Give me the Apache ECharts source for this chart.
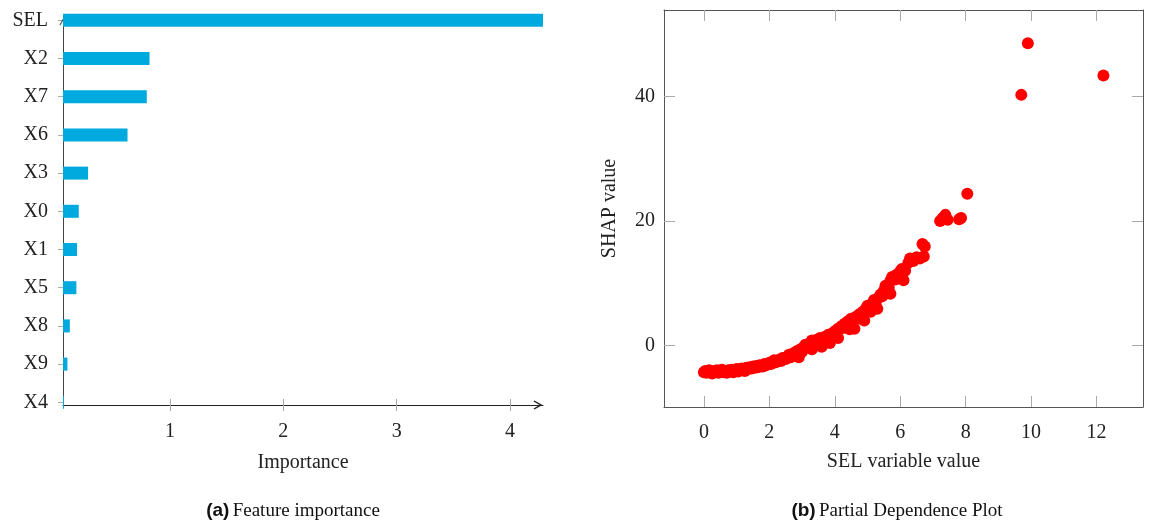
<!DOCTYPE html>
<html>
<head>
<meta charset="utf-8">
<script src="https://cdn.jsdelivr.net/npm/echarts@6/dist/echarts.min.js"></script>
<style>
html,body{margin:0;padding:0;background:#fff;}
#chart{width:1149px;height:523px;}
</style>
</head>
<body>
<div id="chart"></div>
<script>
// ---- Data ----
const categories = ['X4','X9','X8','X5','X1','X0','X3','X6','X7','X2','SEL'];
const importance = [0.066,0.096,0.117,0.175,0.181,0.196,0.278,0.626,0.796,0.82,4.29];
const importanceTicks = [1,2,3,4];

const selValues = [0.00,0.04,0.08,0.12,0.16,0.20,0.25,0.30,0.35,0.40,0.45,0.50,0.55,0.60,0.65,0.70,0.75,0.80,0.85,0.90,0.95,
 1.00,1.05,1.10,1.15,1.20,1.25,1.30,1.35,1.40,1.45,1.50,1.55,1.60,1.65,1.70,1.80,1.85,1.90,
 2.00,2.05,2.10,2.15,2.20,2.30,2.35,2.40,2.50,2.55,2.60,2.65,2.75,2.80,2.85,2.90,2.95,
 3.00,3.05,3.10,3.15,3.25,3.30,3.30,3.35,3.45,3.50,3.55,3.60,3.60,3.70,3.75,3.80,3.85,3.90,3.95,
 4.00,4.05,4.10,4.10,4.20,4.25,4.30,4.40,4.45,4.45,4.50,4.55,4.60,4.65,4.70,4.75,4.85,4.90,4.90,4.95,
 5.00,5.05,5.10,5.15,5.20,5.25,5.30,5.35,5.40,5.45,5.50,5.55,5.65,5.70,5.70,5.75,5.85,5.90,
 6.00,6.05,6.10,6.15,6.25,6.30,6.40,6.50,6.60,6.68,6.72,6.75,
 7.22,7.30,7.38,7.45,7.80,7.86,8.05,9.70,9.90,12.21];
const shapValues = [-4.3,-4.1,-4.4,-4.2,-4.0,-4.3,-4.5,-4.1,-4.3,-4.0,-4.4,-4.2,-3.9,-4.3,-4.1,-4.4,-4.0,-4.2,-3.9,-4.3,-4.1,
 -3.8,-4.2,-4.0,-3.7,-3.9,-4.1,-3.6,-3.8,-3.5,-3.7,-3.4,-3.6,-3.3,-3.5,-3.2,-3.4,-3.0,-3.2,
 -2.8,-3.0,-2.6,-2.4,-2.7,-2.3,-2.5,-2.0,-2.2,-1.8,-1.5,-1.9,-1.2,-1.5,-0.9,-1.9,-0.6,
 -1.0,-0.3,0.1,-0.2,0.4,0.8,-0.6,0.3,0.9,0.6,1.2,0.8,-0.2,1.4,1.1,1.7,0.4,1.9,1.5,
 2.3,2.0,2.7,1.2,3.1,2.8,3.5,3.9,3.6,2.6,4.3,4.0,2.7,4.6,4.3,5.0,5.4,5.1,4.0,5.9,
 6.4,6.0,5.4,6.8,7.3,6.9,5.9,7.7,8.2,7.9,8.8,9.6,9.3,10.4,8.3,11.0,10.6,11.4,
 11.9,12.3,10.5,12.0,13.3,14.0,13.6,14.2,14.0,16.3,14.3,15.9,
 20.0,20.5,21.0,20.2,20.3,20.5,24.4,40.3,48.6,43.4];
const selTicks = [0,2,4,6,8,10,12];
const shapTicks = [0,20,40];

const scatterData = selValues.map((x, i) => [x, shapValues[i]]);

const SERIF = 'Liberation Serif';
const arrowPath = 'path://M5,0 L10,9 L9,10 L5,3.2 L1,10 L0,9 Z';
const tickColor = '#aaaaaa';
const labelStyle = { fontFamily: SERIF, fontSize: 20, color: '#222' };
const nameStyle = { fontFamily: SERIF, fontSize: 20, color: '#222' };

const chart = echarts.init(document.getElementById('chart'), null, { renderer: 'canvas' });

const option = {
  backgroundColor: '#ffffff',
  animation: false,
  grid: [
    // 0: bars (band per category)
    { left: 63, top: 1.2, width: 480, height: 420.2 },
    // 1: scatter box
    { left: 664, top: 10, width: 479, height: 397 },
    // 2: visible axis lines of the importance plot
    { left: 63, top: 19, width: 480, height: 386 },
    // 3: inside tick halves of the importance x axis
    { left: 63, top: 19, width: 480, height: 386 }
  ],
  xAxis: [
    {
      gridIndex: 0, type: 'value', min: 0.057, max: 4.29, show: false
    },
    {
      gridIndex: 1, type: 'value', min: -1.22, max: 13.42, position: 'bottom',
      axisLine: { show: true, onZero: false, lineStyle: { color: '#555', width: 1 } },
      axisTick: { show: true, inside: true, length: 11, lineStyle: { color: tickColor }, customValues: selTicks },
      axisLabel: Object.assign({ customValues: selTicks, margin: 16 }, labelStyle),
      splitLine: { show: false },
      name: 'SEL variable value', nameLocation: 'middle', nameGap: 45, nameTextStyle: nameStyle
    },
    {
      gridIndex: 1, type: 'value', min: -1.22, max: 13.42, position: 'top',
      axisLine: { show: true, onZero: false, lineStyle: { color: '#555', width: 1 } },
      axisTick: { show: true, inside: true, length: 11, lineStyle: { color: tickColor }, customValues: selTicks },
      axisLabel: { show: false },
      splitLine: { show: false }
    },
    {
      gridIndex: 2, type: 'value', min: 0.057, max: 4.29, position: 'bottom',
      axisLine: { show: true, onZero: false, lineStyle: { color: '#222', width: 1 },
        symbol: ['none', arrowPath], symbolSize: [9, 10], symbolOffset: [0, -5] },
      axisTick: { show: true, inside: false, length: 6, lineStyle: { color: tickColor }, customValues: importanceTicks },
      axisLabel: Object.assign({ customValues: importanceTicks, margin: 17 }, labelStyle),
      splitLine: { show: false },
      name: 'Importance', nameLocation: 'middle', nameGap: 48, nameTextStyle: nameStyle
    },
    {
      gridIndex: 3, type: 'value', min: 0.057, max: 4.29, position: 'bottom',
      axisLine: { show: false, onZero: false },
      axisTick: { show: true, inside: true, length: 6, lineStyle: { color: tickColor }, customValues: importanceTicks },
      axisLabel: { show: false },
      splitLine: { show: false }
    }
  ],
  yAxis: [
    {
      gridIndex: 0, type: 'category', data: categories, boundaryGap: true,
      axisLine: { show: false },
      axisTick: { show: true, inside: false, alignWithLabel: true, length: 5, lineStyle: { color: tickColor } },
      axisLabel: Object.assign({ margin: 15 }, labelStyle),
      splitLine: { show: false }
    },
    {
      gridIndex: 1, type: 'value', min: -9.9, max: 53.95, position: 'left',
      axisLine: { show: true, onZero: false, lineStyle: { color: '#555', width: 1 } },
      axisTick: { show: true, inside: true, length: 11, lineStyle: { color: tickColor }, customValues: shapTicks },
      axisLabel: Object.assign({ customValues: shapTicks, margin: 9 }, labelStyle),
      splitLine: { show: false },
      name: 'SHAP value', nameLocation: 'middle', nameGap: 44, nameRotate: 90, nameTextStyle: nameStyle
    },
    {
      gridIndex: 1, type: 'value', min: -9.9, max: 53.95, position: 'right',
      axisLine: { show: true, onZero: false, lineStyle: { color: '#555', width: 1 } },
      axisTick: { show: true, inside: true, length: 11, lineStyle: { color: tickColor }, customValues: shapTicks },
      axisLabel: { show: false },
      splitLine: { show: false }
    },
    {
      gridIndex: 2, type: 'value', min: 0, max: 1, position: 'left',
      axisLine: { show: true, onZero: false, lineStyle: { color: '#444', width: 1 },
        symbol: ['none', arrowPath], symbolSize: [7, 8], symbolOffset: [0, -3] },
      axisTick: { show: false },
      axisLabel: { show: false },
      splitLine: { show: false }
    },
    {
      gridIndex: 3, type: 'value', min: 0, max: 1, show: false
    }
  ],
  series: [
    {
      type: 'bar', xAxisIndex: 0, yAxisIndex: 0, data: importance,
      barWidth: 13,
      itemStyle: { color: '#00a9de' }
    },
    {
      type: 'scatter', xAxisIndex: 1, yAxisIndex: 1, data: scatterData,
      symbol: 'circle', symbolSize: 12,
      itemStyle: { color: '#ff0000', opacity: 1 }
    }
  ],
  graphic: [
    {
      type: 'text', x: 293, y: 511,
      style: {
        text: '{a|(a)} {t|Feature importance}',
        align: 'center', verticalAlign: 'middle',
        rich: {
          a: { fontFamily: 'Liberation Sans', fontWeight: 'bold', fontSize: 19, fill: '#111' },
          t: { fontFamily: SERIF, fontSize: 19, fill: '#111' }
        }
      }
    },
    {
      type: 'text', x: 897, y: 511,
      style: {
        text: '{a|(b)} {t|Partial Dependence Plot}',
        align: 'center', verticalAlign: 'middle',
        rich: {
          a: { fontFamily: 'Liberation Sans', fontWeight: 'bold', fontSize: 19, fill: '#111' },
          t: { fontFamily: SERIF, fontSize: 19, fill: '#111' }
        }
      }
    }
  ]
};
chart.setOption(option);
</script>
</body>
</html>
